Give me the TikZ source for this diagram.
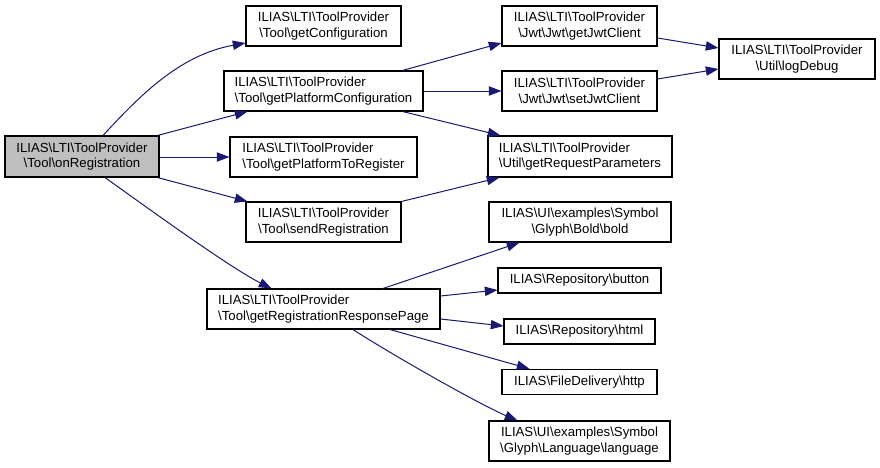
\documentclass[tikz,border=0pt]{standalone}
\usepackage{fontspec}
\setmainfont{Liberation Sans}
\usetikzlibrary{arrows.meta,calc}
\definecolor{edgecol}{HTML}{191970}
\definecolor{focusfill}{HTML}{BFBFBF}
\newcommand\bsl{\textbackslash}
\begin{document}
\begin{tikzpicture}[x=0.75pt,y=-0.75pt,
  box/.style={draw=black, line width=0.8pt, fill=white, inner sep=0pt,
    font=\fontsize{9.9}{11.8}\selectfont, minimum height=30pt},
  cbox/.style={box, align=center},
  lbox/.style={box, align=left},
  edge/.style={draw=edgecol, line width=0.75pt, -{Triangle[length=9.5pt,width=7pt]}}]
\useasboundingbox (0,0) rectangle (880,467);
% nodes
\node[cbox, fill=focusfill, minimum width=115.5pt, minimum height=30.75pt] (onReg) at (82,156.5)
  {ILIAS\bsl LTI\bsl ToolProvider\\\bsl Tool\bsl onRegistration};
\node[cbox, minimum width=116.25pt] (getConf) at (323.5,26)
  {ILIAS\bsl LTI\bsl ToolProvider\\\bsl Tool\bsl getConfiguration};
\node[lbox, minimum width=149.25pt] (getPlatConf) at (323.5,91)
  {ILIAS\bsl LTI\bsl ToolProvider\\\bsl Tool\bsl getPlatformConfiguration};
\node[lbox, minimum width=140.25pt] (getPlatToReg) at (323.5,157)
  {ILIAS\bsl LTI\bsl ToolProvider\\\bsl Tool\bsl getPlatformToRegister};
\node[cbox, minimum width=116.25pt] (sendReg) at (323.5,222)
  {ILIAS\bsl LTI\bsl ToolProvider\\\bsl Tool\bsl sendRegistration};
\node[lbox, minimum width=174.75pt] (getRegResp) at (323.5,309)
  {ILIAS\bsl LTI\bsl ToolProvider\\\bsl Tool\bsl getRegistrationResponsePage};
\node[cbox, minimum width=116.25pt] (getJwt) at (579.5,26)
  {ILIAS\bsl LTI\bsl ToolProvider\\\bsl Jwt\bsl Jwt\bsl getJwtClient};
\node[cbox, minimum width=116.25pt] (setJwt) at (579.5,91)
  {ILIAS\bsl LTI\bsl ToolProvider\\\bsl Jwt\bsl Jwt\bsl setJwtClient};
\node[cbox, minimum width=117pt] (logDebug) at (797,59)
  {ILIAS\bsl LTI\bsl ToolProvider\\\bsl Util\bsl logDebug};
\node[lbox, minimum width=138pt, minimum height=30.75pt] (getReqParam) at (580,156.5)
  {ILIAS\bsl LTI\bsl ToolProvider\\\bsl Util\bsl getRequestParameters};
\node[cbox, minimum width=136.5pt] (bold) at (580,222)
  {ILIAS\bsl UI\bsl examples\bsl Symbol\\\bsl Glyph\bsl Bold\bsl bold};
\node[cbox, minimum width=122.25pt, minimum height=18.75pt] (button) at (579.5,280.5)
  {ILIAS\bsl Repository\bsl button};
\node[cbox, minimum width=113.25pt, minimum height=18.75pt] (html) at (579.5,331.5)
  {ILIAS\bsl Repository\bsl html};
\node[cbox, minimum width=116.25pt, minimum height=19pt] (http) at (579.5,382)
  {ILIAS\bsl FileDelivery\bsl http};
\node[cbox, minimum width=135.75pt] (language) at (579.5,441)
  {ILIAS\bsl UI\bsl examples\bsl Symbol\\\bsl Glyph\bsl Language\bsl language};
% edges
\draw[edge] ($(onReg.north)+(21,0)$) .. controls +(37,-40) and +(-66,12) .. ($(getConf.west)+(0,17)$);
\draw[edge] ($(onReg.north east)+(-2,0)$) -- ($(getPlatConf.south west)+(24,0)$);
\draw[edge] (onReg.east |- getPlatToReg.west) -- (getPlatToReg.west);
\draw[edge] ($(onReg.south east)+(-2,0)$) -- ($(sendReg.north west)+(2,0)$);
\draw[edge] ($(onReg.south)+(23,0)$) .. controls +(35,25) and +(-42,-21) .. ($(getRegResp.north west)+(65,0)$);
\draw[edge] ($(getPlatConf.north east)+(-21,0)$) -- ($(getJwt.west)+(0,17)$);
\draw[edge] (getPlatConf.east) -- (setJwt.west);
\draw[edge] ($(getPlatConf.south east)+(-21,0)$) -- ($(getReqParam.north west)+(13,0)$);
\draw[edge] ($(getJwt.east)+(0,12)$) -- ($(logDebug.west)+(0,-11)$);
\draw[edge] ($(setJwt.east)+(0,-12)$) -- ($(logDebug.west)+(0,10)$);
\draw[edge] (sendReg.north east) -- ($(getReqParam.south west)+(12,0)$);
\draw[edge] ($(getRegResp.north)+(59.5,0)$) -- ($(bold.south west)+(31,0)$);
\draw[edge] ($(getRegResp.east)+(0,-13)$) -- ($(button.west)+(0,9.5)$);
\draw[edge] ($(getRegResp.east)+(0,10)$) -- ($(html.west)+(0,-5.5)$);
\draw[edge] ($(getRegResp.south)+(66.5,0)$) -- ($(http.north west)+(28,0)$);
\draw[edge] ($(getRegResp.south)+(29.5,0)$) .. controls +(37,24) and +(-38,-16) .. ($(language.north west)+(29,0)$);
\end{tikzpicture}
\end{document}
